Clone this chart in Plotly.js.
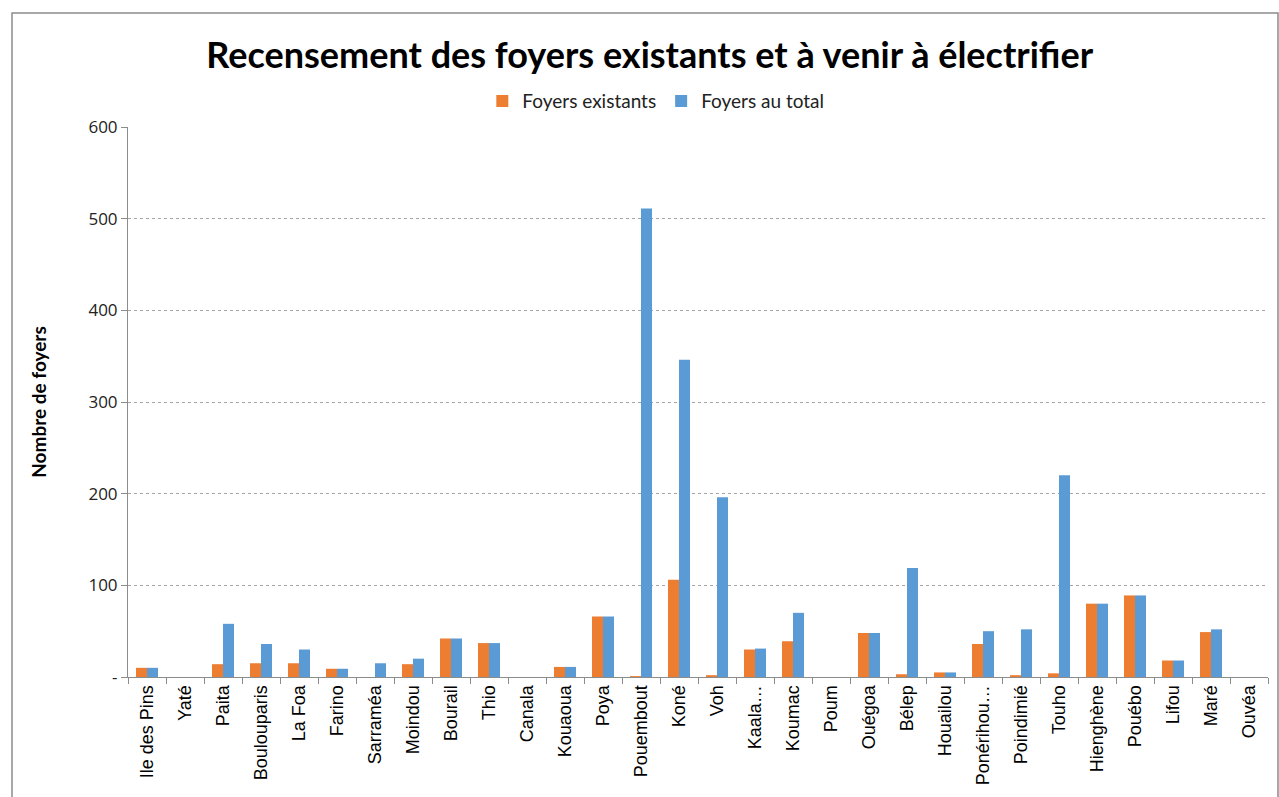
<!DOCTYPE html>
<html>
<head>
<meta charset="utf-8">
<script src="https://cdn.plot.ly/plotly-3.0.1.min.js"></script>
<style>html,body{margin:0;padding:0;background:#fff;}#chart{width:1279px;height:797px;}</style>
</head>
<body>
<div id="chart"></div>
<script>
const communes = ["Ile des Pins","Yaté","Paita","Boulouparis","La Foa","Farino","Sarraméa","Moindou","Bourail","Thio","Canala","Kouaoua","Poya","Pouembout","Koné","Voh","Kaala…","Koumac","Poum","Ouégoa","Bélep","Houailou","Ponérihou…","Poindimié","Touho","Hienghène","Pouébo","Lifou","Maré","Ouvéa"];
const foyersExistants = [10,0,14,15,15,9,0,14,42,37,0,11,66,1,106,2,30,39,0,48,3,5,36,2,4,80,89,18,49,0];
const foyersTotal = [10,0,58,36,30,9,15,20,42,37,0,11,66,511,346,196,31,70,0,48,119,5,50,52,220,80,89,18,52,0];
const yTickVals = [0,100,200,300,400,500,600];
const yTickText = ["-","100","200","300","400","500","600"];

const traces = [
  {type:"bar", name:"Foyers existants", x:communes, y:foyersExistants, marker:{color:"#ED7D31"}},
  {type:"bar", name:"Foyers au total", x:communes, y:foyersTotal, marker:{color:"#5B9BD5"}}
];

const layout = {
  width:1279, height:797,
  margin:{l:128, r:11, t:127, b:120},
  paper_bgcolor:"#fff", plot_bgcolor:"#fff",
  barmode:"group", bargap:0.42, bargroupgap:0,
  font:{family:"Open Sans, Arial, sans-serif", size:17, color:"#222"},
  title:{text:"<b>Recensement des foyers existants et à venir à électrifier</b>",
         font:{family:"Lato, sans-serif", size:36, color:"#000"},
         x:0.508, xanchor:"center", y:0.931, yanchor:"middle"},
  showlegend:true,
  legend:{orientation:"h", x:0.463, xanchor:"center", y:1.047, yanchor:"middle",
          font:{family:"Lato, sans-serif", size:19, color:"#222"}, itemwidth:30, traceorder:"normal"},
  xaxis:{type:"category", tickangle:-90, showline:true, linecolor:"#8c8c8c", linewidth:1,
         ticks:"outside", tickson:"boundaries", ticklen:6, tickcolor:"#8c8c8c",
         tickfont:{family:"Liberation Sans, Arial, sans-serif", size:18, color:"#000"},
         showgrid:false, fixedrange:true},
  yaxis:{range:[0,600], tickvals:yTickVals, ticktext:yTickText, showline:true, linecolor:"#8c8c8c",
         ticks:"outside", ticklen:6, tickcolor:"#8c8c8c",
         tickfont:{family:"Open Sans, sans-serif", size:17, color:"#222"},
         showgrid:true, gridcolor:"#a6a6a6", griddash:"dot", gridwidth:1, zeroline:false,
         title:{text:"<b>Nombre de foyers</b>", font:{family:"Lato, sans-serif", size:19, color:"#000"}, standoff:36}},
  shapes:[{type:"rect", xref:"paper", yref:"paper", x0:(12-128)/1140, x1:(1278-128)/1140, y0:-0.3, y1:(677-13)/550,
           line:{color:"#8c8c8c", width:1.5}, fillcolor:"rgba(0,0,0,0)", layer:"below"}]
};
Plotly.newPlot("chart", traces, layout, {displayModeBar:false, staticPlot:true});
</script>
</body>
</html>
